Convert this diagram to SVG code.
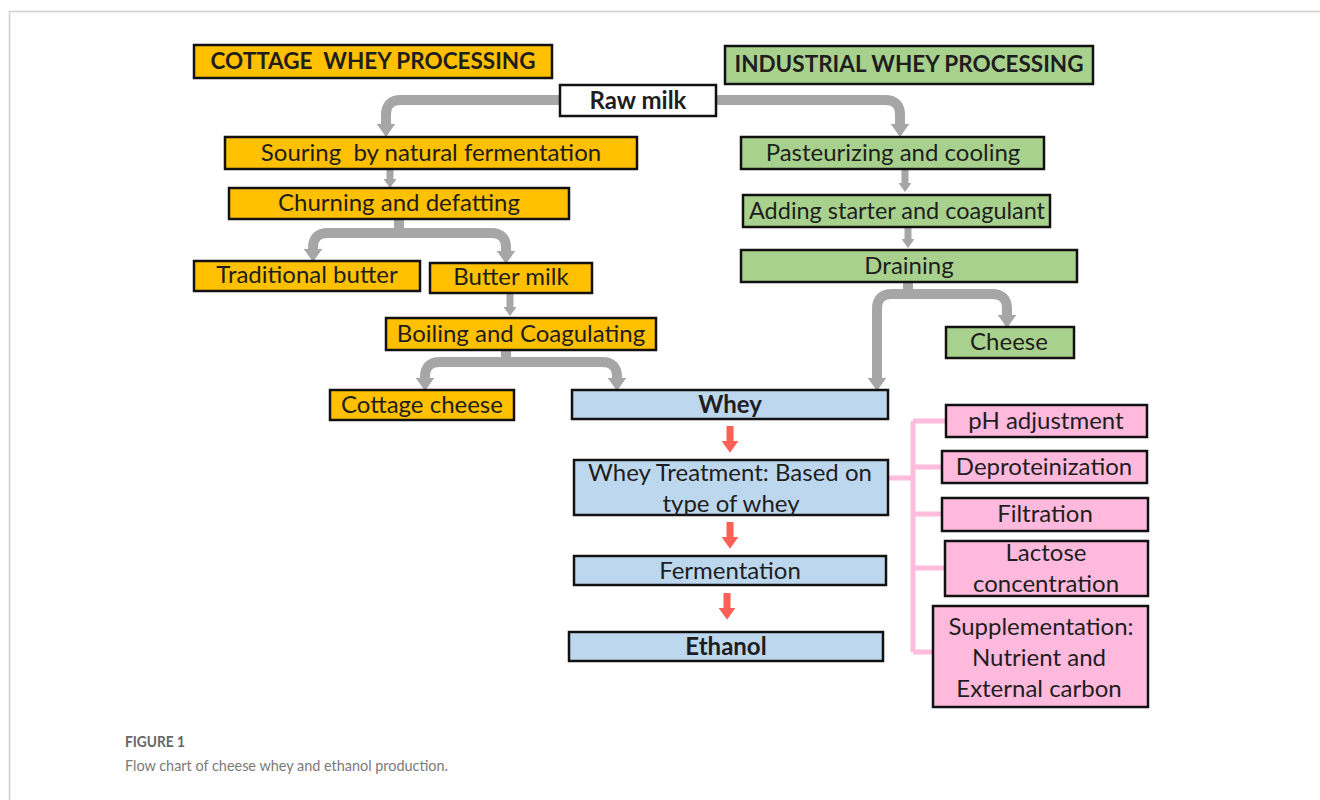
<svg xmlns="http://www.w3.org/2000/svg" width="1320" height="800" viewBox="0 0 1320 800">
<style>
  .box{stroke:#111;stroke-width:2.5}
  .or{fill:#FFC000}
  .gr{fill:#A9D18E}
  .bl{fill:#BDD7EE}
  .pk{fill:#FFB9DC}
  .wh{fill:#ffffff}
  text{font-family:Lato,"Open Sans","Liberation Sans",sans-serif;fill:#1e1e1e;text-anchor:middle;dominant-baseline:central;transform:translateY(-1.5px)}
  .t{font-size:24px}
  .b{font-size:24px;font-weight:bold}
  .h{font-size:22.5px;font-weight:bold}
  .gc{fill:none;stroke:#A6A6A6;stroke-width:10;marker-end:url(#ga)}
  .gs{fill:none;stroke:#A6A6A6;stroke-width:7;marker-end:url(#ga)}
  .rc{fill:none;stroke:#FF5F55;stroke-width:7;marker-end:url(#ra)}
  .pc{fill:none;stroke:#FFBCDD;stroke-width:5}
  .cap{text-anchor:start;dominant-baseline:alphabetic;transform:none;font-size:15px}
</style>
<defs>
  <marker id="ga" viewBox="0 0 7 10" refX="0" refY="5" markerWidth="1.3" markerHeight="1.85" orient="auto">
    <path d="M0,0 L7,5 L0,10 z" fill="#A6A6A6"/>
  </marker>
  <marker id="ra" viewBox="0 0 7 10" refX="0" refY="5" markerWidth="2" markerHeight="2.4" orient="auto">
    <path d="M0,0 L7,5 L0,10 z" fill="#FF5F55"/>
  </marker>
</defs>
<rect width="1320" height="800" fill="#fff"/>
<path d="M9.5,800 V11.5 H1320" fill="none" stroke="#cfcfcf" stroke-width="1.5"/>

<g id="connectors">
  <path class="gc" d="M560,100 H401 Q386,100 386,115 V124"/>
  <path class="gc" d="M716,100 H885 Q900,100 900,115 V124"/>
  <path class="gs" d="M390,169 V179"/>
  <path class="gc" d="M399,219 V233 H328 Q313,233 313,248 V249"/>
  <path class="gc" d="M399,233 H491 Q506,233 506,248 V251"/>
  <path class="gs" d="M510,293 V307"/>
  <path class="gc" d="M506,350 V362 H440 Q425,362 425,377 V378"/>
  <path class="gc" d="M506,362 H602 Q617,362 617,377 V378"/>
  <path class="gs" d="M905,169 V183"/>
  <path class="gs" d="M908,227 V239"/>
  <path class="gc" d="M908,282 V294 H892 Q877,294 877,309 V378"/>
  <path class="gc" d="M908,294 H992 Q1007,294 1007,309 V315"/>
  <path class="rc" d="M730,426 V441"/>
  <path class="rc" d="M730,522 V537"/>
  <path class="rc" d="M727,593 V608"/>
  <path class="pc" d="M888,478 H913 M913,421 V652 M913,421 H946 M913,467 H942 M913,514 H942 M913,568 H945 M913,652 H933"/>
</g>

<g id="cottage-title"><rect class="box or" x="194" y="45" width="358" height="33"/><text class="h" x="373" y="62" xml:space="preserve">COTTAGE  WHEY PROCESSING</text></g>
<g id="industrial-title"><rect class="box gr" x="725" y="46" width="368" height="38"/><text class="h" x="909" y="65">INDUSTRIAL WHEY PROCESSING</text></g>
<g id="raw-milk"><rect class="box wh" x="560" y="85" width="156" height="31"/><text class="b" x="638" y="101">Raw milk</text></g>

<g id="souring"><rect class="box or" x="225" y="137" width="412" height="32"/><text class="t" x="431" y="153" xml:space="preserve">Souring  by natural fermentation</text></g>
<g id="churning"><rect class="box or" x="229" y="188" width="340" height="31"/><text class="t" x="399" y="203">Churning and defatting</text></g>
<g id="trad-butter"><rect class="box or" x="194" y="261" width="226" height="30"/><text class="t" x="307" y="275">Traditional butter</text></g>
<g id="butter-milk"><rect class="box or" x="430" y="263" width="162" height="30"/><text class="t" x="511" y="277">Butter milk</text></g>
<g id="boiling"><rect class="box or" x="386" y="318" width="270" height="32"/><text class="t" x="521" y="334">Boiling and Coagulating</text></g>
<g id="cottage-cheese"><rect class="box or" x="330" y="390" width="184" height="30"/><text class="t" x="422" y="405">Cottage cheese</text></g>

<g id="pasteurizing"><rect class="box gr" x="741" y="137" width="303" height="32"/><text class="t" x="893" y="153">Pasteurizing and cooling</text></g>
<g id="adding"><rect class="box gr" x="743" y="195" width="307" height="32"/><text class="t" x="897" y="211" textLength="296" lengthAdjust="spacingAndGlyphs">Adding starter and coagulant</text></g>
<g id="draining"><rect class="box gr" x="741" y="250" width="336" height="32"/><text class="t" x="909" y="266">Draining</text></g>
<g id="cheese"><rect class="box gr" x="946" y="327" width="128" height="31"/><text class="t" x="1009" y="342">Cheese</text></g>

<g id="whey"><rect class="box bl" x="572" y="390" width="316" height="29"/><text class="b" x="730" y="405">Whey</text></g>
<g id="treatment"><rect class="box bl" x="574" y="460" width="314" height="55"/><text class="t" x="730" y="473">Whey Treatment: Based on</text><text class="t" x="731" y="504">type of whey</text></g>
<g id="fermentation"><rect class="box bl" x="574" y="556" width="312" height="29"/><text class="t" x="730" y="571">Fermentation</text></g>
<g id="ethanol"><rect class="box bl" x="569" y="632" width="314" height="29"/><text class="b" x="726" y="647">Ethanol</text></g>

<g id="ph"><rect class="box pk" x="946" y="405" width="201" height="32"/><text class="t" x="1046" y="421">pH adjustment</text></g>
<g id="deprot"><rect class="box pk" x="942" y="451" width="205" height="32"/><text class="t" x="1044" y="467">Deproteinization</text></g>
<g id="filtration"><rect class="box pk" x="942" y="498" width="206" height="33"/><text class="t" x="1045" y="514">Filtration</text></g>
<g id="lactose"><rect class="box pk" x="945" y="541" width="203" height="55"/><text class="t" x="1046" y="553">Lactose</text><text class="t" x="1046" y="584">concentration</text></g>
<g id="supplement"><rect class="box pk" x="933" y="606" width="215" height="101"/><text class="t" x="1041" y="627">Supplementation:</text><text class="t" x="1039" y="658">Nutrient and</text><text class="t" x="1039" y="689">External carbon</text></g>

<g id="caption">
  <text class="cap" x="125" y="747" font-weight="bold" style="fill:#666" textLength="60" lengthAdjust="spacingAndGlyphs">FIGURE 1</text>
  <text class="cap" x="125" y="771" style="fill:#7a7a7a" textLength="323" lengthAdjust="spacingAndGlyphs">Flow chart of cheese whey and ethanol production.</text>
</g>
</svg>
